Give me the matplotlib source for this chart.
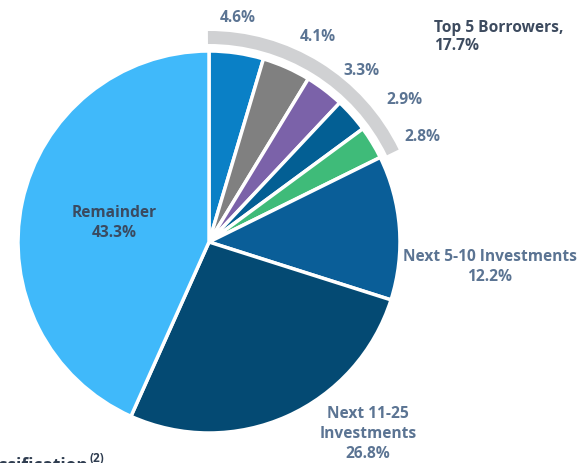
import matplotlib
matplotlib.use("Agg")
import matplotlib.pyplot as plt
from matplotlib.patches import Wedge

labels = ["4.6%", "4.1%", "3.3%", "2.9%", "2.8%",
          "Next 5-10 Investments\n12.2%", "Next 11-25\nInvestments\n26.8%", "Remainder\n43.3%"]
values = [4.6, 4.1, 3.3, 2.9, 2.8, 12.2, 26.8, 43.3]
colors = ["#0a80c6", "#808080", "#7b62a9", "#035f94", "#3fbb79", "#0a5e98", "#044a73", "#40b9fa"]
top5_label = "Top 5 Borrowers,\n17.7%"
top5_total = sum(values[:5])

W, H = 584, 463
fig = plt.figure(figsize=(W / 100, H / 100), dpi=100)
ax = fig.add_axes([0, 0, 1, 1])

cx, cy, R = 209, H - 242, 191

ax.pie(values, colors=colors, startangle=90, counterclock=False,
       center=(cx, cy), radius=R, frame=True,
       wedgeprops=dict(edgecolor="white", linewidth=2.5))
ax.set_xlim(0, W)
ax.set_ylim(0, H)
ax.set_aspect("equal")
ax.axis("off")

# grey arc around top 5
theta2 = 90
theta1 = 90 - top5_total / 100 * 360
ax.add_patch(Wedge((cx, cy), 211, theta1 - 0.3, theta2 + 0.3, width=13,
                   facecolor="#d0d1d3", edgecolor="none"))

font = ["Open Sans", "DejaVu Sans"]
tc = "#5b7493"
fs = 11.2
pos_small = [(238, 18), (318, 37), (362, 71), (404, 100), (422, 137)]
for lab, (x, y) in zip(labels[:5], pos_small):
    ax.text(x, H - y, lab, ha="center", va="center", fontsize=fs,
            fontweight="bold", color=tc, family=font)

ax.text(434, H - 37, top5_label, ha="left", va="center", fontsize=fs,
        fontweight="bold", color="#3d4b5f", family=font, linespacing=1.25)
ax.text(490, H - 267, labels[5], ha="center", va="center", fontsize=fs,
        fontweight="bold", color=tc, family=font, linespacing=1.35)
ax.text(368, H - 434, labels[6], ha="center", va="center", fontsize=fs,
        fontweight="bold", color=tc, family=font, linespacing=1.35)
ax.text(114, H - 223, labels[7], ha="center", va="center", fontsize=fs,
        fontweight="bold", color="#3a4a60", family=font, linespacing=1.35)

ax.text(88, H - 471, "Classification", ha="right", va="baseline",
        fontsize=12.5, fontweight="bold", color="#2f3d50", family=font)
ax.text(89, H - 462, "(2)", ha="left", va="baseline",
        fontsize=8.5, fontweight="bold", color="#2f3d50", family=font)

fig.savefig("out.png", dpi=100)
